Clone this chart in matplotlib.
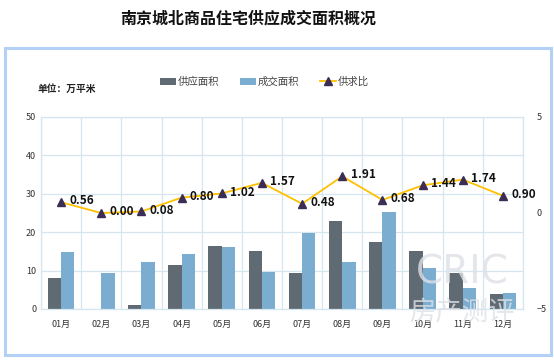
import numpy as np
import matplotlib
matplotlib.use("Agg")
import matplotlib.pyplot as plt
from matplotlib.patches import Rectangle

plt.rcParams['font.family'] = ['Noto Sans CJK SC', 'DejaVu Sans']

months = ["01月", "02月", "03月", "04月", "05月", "06月",
          "07月", "08月", "09月", "10月", "11月", "12月"]
supply = [8.2, 0.0, 1.0, 11.4, 16.5, 15.2, 9.5, 23.0, 17.4, 15.2, 9.3, 3.8]
deal   = [14.8, 9.5, 12.3, 14.2, 16.1, 9.7, 19.8, 12.2, 25.3, 10.6, 5.35, 4.2]
ratio  = [0.56, 0.00, 0.08, 0.80, 1.02, 1.57, 0.48, 1.91, 0.68, 1.44, 1.74, 0.90]

C_SUP = "#5f6a72"
C_DEAL = "#7badd0"
C_LINE = "#ffc000"
C_MARK = "#3b2d55"
C_GRID = "#d6e6f0"

W, H = 554, 360
fig = plt.figure(figsize=(W / 100, H / 100), dpi=100)

# outer frame
fig.patches.append(Rectangle((5 / W, 5 / H), 546 / W, 307 / H, transform=fig.transFigure,
                             fill=False, ec="#b3d1f7", lw=2.2))
fig.text(248 / W, 1 - 18 / H, "南京城北商品住宅供应成交面积概况", ha="center", va="center",
         fontsize=11.5, fontweight="bold", color="#111111")
fig.text(37 / W, 1 - 89 / H, "单位：万平米", ha="left", va="center", fontsize=7,
         fontweight="bold", color="#222222")

ax = fig.add_axes([41 / W, 1 - 309 / H, 482 / W, 192 / H])
x = np.arange(len(months))
bw = 0.33
ax.bar(x - bw / 2, supply, bw, color=C_SUP, label="供应面积", zorder=2)
ax.bar(x + bw / 2, deal, bw, color=C_DEAL, label="成交面积", zorder=2)
ax.set_xlim(-0.5, len(months) - 0.5)
ax.set_ylim(0, 50)
ax.set_yticks(range(0, 51, 10))
ax.set_xticks(x)
ax.set_xticklabels(months)
ax.set_xticks(np.arange(-0.5, len(months)), minor=True)
ax.grid(False)
ax.grid(axis="x", which="minor", color=C_GRID, lw=0.9, zorder=0)
ax.grid(axis="y", which="major", color=C_GRID, lw=0.9, zorder=0)
ax.tick_params(axis="both", which="both", length=0, labelsize=6.5, colors="#333333")
ax.tick_params(axis="x", pad=8)
for s in ax.spines.values():
    s.set_color(C_GRID)
    s.set_linewidth(0.9)

ax2 = ax.twinx()
ax2.plot(x, ratio, color=C_LINE, lw=1.3, marker="^", markersize=5.5,
         markerfacecolor=C_MARK, markeredgecolor=C_MARK, label="供求比", zorder=3)
ax2.set_ylim(-5, 5)
ax2.set_yticks([-5, 0, 5])
ax2.tick_params(axis="y", length=0, labelsize=6.5, colors="#333333", pad=10)
for s in ax2.spines.values():
    s.set_visible(False)
for xi, r in zip(x, ratio):
    ax2.annotate(f"{r:.2f}", (xi, r), xytext=(6, 1), textcoords="offset points",
                 ha="left", va="center", fontsize=8.5, fontweight="bold", color="#111111")

h1, l1 = ax.get_legend_handles_labels()
h2, l2 = ax2.get_legend_handles_labels()
fig.legend(h1 + h2, l1 + l2, loc="center", bbox_to_anchor=(264 / W, 1 - 82 / H), ncol=3,
           frameon=False, fontsize=7.5, handlelength=1.6, handleheight=0.7,
           handletextpad=0.1, columnspacing=2.0, labelcolor="#444444")

# watermark
fig.text(462 / W, 1 - 272 / H, "CRIC", ha="center", va="center", fontsize=28,
         color="#dde1e6", alpha=0.8, family="DejaVu Sans")
fig.text(462 / W, 1 - 313 / H, "房产测评", ha="center", va="center", fontsize=19,
         color="#dde1e6", alpha=0.8)

fig.savefig("out.png", dpi=100)
